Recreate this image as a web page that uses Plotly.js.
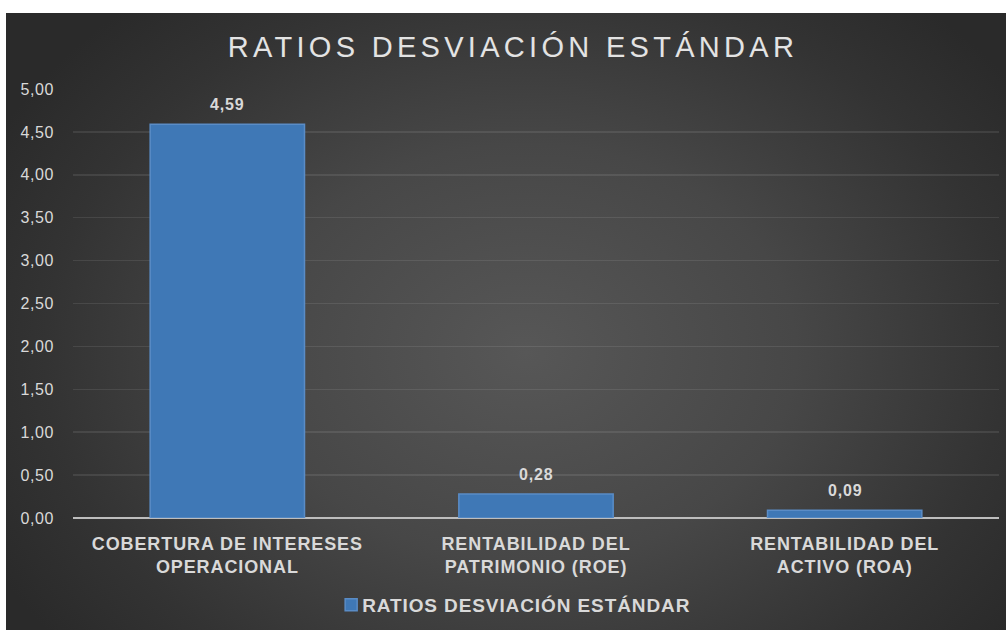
<!DOCTYPE html>
<html>
<head>
<meta charset="utf-8">
<script src="https://cdn.plot.ly/plotly-3.0.1.min.js"></script>
<style>
  html, body { margin: 0; padding: 0; background: #ffffff; width: 1006px; height: 630px; overflow: hidden; }
  #wrap {
    position: absolute; left: 6px; top: 13px; width: 1000px; height: 617px;
    background: radial-gradient(ellipse 60% 75% at 52% 55%, #575757 0%, #474747 45%, #333333 80%, #2a2a2a 100%);
  }
  #chart { width: 1000px; height: 617px; }
  .gtitle { letter-spacing: 4.3px; }
  .xtick text { letter-spacing: 0.9px; }
  .ytick text { letter-spacing: 0.6px; }
  .legendtext { letter-spacing: 0.9px; }
  .annotation-text { letter-spacing: 0.8px; }
  .legendpoints { transform: translate(9px, 0px); }
</style>
</head>
<body>
<div id="wrap"><div id="chart"></div></div>
<script>
const categories = ['COBERTURA DE INTERESES<br>OPERACIONAL', 'RENTABILIDAD DEL<br>PATRIMONIO (ROE)', 'RENTABILIDAD DEL<br>ACTIVO (ROA)'];
const values = [4.59, 0.28, 0.09];
const seriesName = 'RATIOS DESVIACIÓN ESTÁNDAR';
const chartTitle = 'RATIOS DESVIACIÓN ESTÁNDAR';
const yTickVals = [0, 0.5, 1, 1.5, 2, 2.5, 3, 3.5, 4, 4.5, 5];

const fontFam = 'Liberation Sans, Arial, sans-serif';
const txtColor = '#d9d9d9';

const trace = {
  type: 'bar',
  x: categories,
  y: values,
  name: seriesName,
  width: 0.5,
  marker: { color: '#3f78b6', line: { color: '#5a8cc6', width: 1.5 } },
  hoverinfo: 'skip',
  showlegend: true
};

const annotations = categories.map((c, i) => ({
  x: c, y: values[i], xref: 'x', yref: 'y',
  text: '<b>' + values[i].toFixed(2).replace('.', ',') + '</b>',
  showarrow: false, yanchor: 'bottom', yshift: 9,
  font: { family: fontFam, size: 16, color: txtColor }
}));

const layout = {
  width: 1000, height: 617,
  paper_bgcolor: 'rgba(0,0,0,0)',
  plot_bgcolor: 'rgba(0,0,0,0)',
  margin: { l: 67, r: 7, t: 76, b: 111 },
  separators: ',.',
  font: { family: fontFam },
  title: {
    text: chartTitle,
    font: { family: fontFam, size: 29, color: '#e3e3e3' },
    xref: 'container', x: 0.507, xanchor: 'center',
    yref: 'container', y: 0.945, yanchor: 'middle'
  },
  xaxis: {
    type: 'category',
    showgrid: false,
    showline: false,
    zeroline: false,
    ticks: '',
    tickfont: { family: fontFam, size: 18, color: txtColor, weight: 'bold' },
    ticklabelstandoff: 13
  },
  yaxis: {
    range: [0, 5],
    tickvals: yTickVals,
    tickformat: '.2f',
    showgrid: true,
    gridcolor: 'rgba(255,255,255,0.09)',
    gridwidth: 1.5,
    zeroline: true,
    zerolinecolor: '#bdbdbd',
    zerolinewidth: 2,
    showline: false,
    ticks: '',
    tickfont: { family: fontFam, size: 16, color: txtColor },
    ticklabelstandoff: 18
  },
  legend: {
    orientation: 'h',
    x: 0.471, xanchor: 'center',
    y: -0.2, yanchor: 'middle',
    font: { family: fontFam, size: 19, color: txtColor, weight: 'bold' },
    bgcolor: 'rgba(0,0,0,0)',
    itemwidth: 30
  },
  annotations: annotations,
  bargap: 0.5,
  showlegend: true
};

Plotly.newPlot('chart', [trace], layout, { displayModeBar: false, staticPlot: true });
</script>
</body>
</html>
